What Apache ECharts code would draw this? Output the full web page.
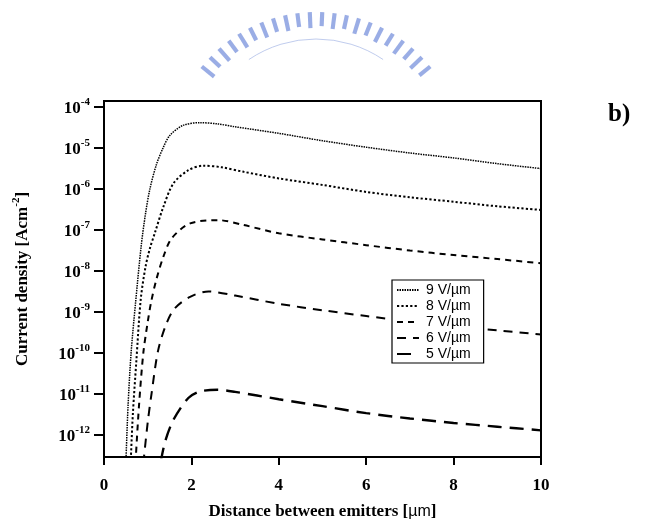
<!DOCTYPE html>
<html>
<head>
<meta charset="utf-8">
<script src="https://cdn.jsdelivr.net/npm/echarts@6/dist/echarts.min.js"></script>
<style>html,body{margin:0;padding:0;background:#fff}#c{width:646px;height:521px}</style>
</head>
<body>
<div id="c"></div>
<script>
// ---- data (distance in µm, current density in A/cm^2) ----
const seriesNames = ['9 V/µm', '8 V/µm', '7 V/µm', '6 V/µm', '5 V/µm'];

const x9 = [0.50, 0.55, 0.62, 0.72, 0.85, 0.95, 1.05, 1.2, 1.35, 1.5, 1.8, 2.2, 2.6, 3, 4, 5, 6, 7, 8, 9, 10];
const j9 = [2.0e-13, 5.0e-12, 1.0e-10, 1.58e-9, 3.98e-8, 2.51e-7, 1.0e-6, 3.98e-6, 1.0e-5, 2.0e-5, 3.55e-5, 4.17e-5, 3.89e-5, 3.31e-5, 2.29e-5, 1.51e-5, 1.05e-5, 7.59e-6, 5.75e-6, 4.17e-6, 3.16e-6];

const x8 = [0.61, 0.66, 0.74, 0.84, 0.95, 1.05, 1.17, 1.36, 1.59, 1.93, 2.27, 2.7, 3.2, 4, 5, 6, 7, 8, 9, 10];
const j8 = [2.0e-13, 3.16e-12, 6.31e-11, 2.0e-9, 1.26e-8, 3.55e-8, 8.91e-8, 3.72e-7, 1.38e-6, 2.88e-6, 3.72e-6, 3.39e-6, 2.63e-6, 1.82e-6, 1.26e-6, 8.51e-7, 6.31e-7, 4.9e-7, 3.8e-7, 3.09e-7];

const x7 = [0.72, 0.8, 0.9, 1.0, 1.08, 1.2, 1.36, 1.55, 1.97, 2.62, 3.2, 4, 5, 6, 7, 8, 9, 10];
const j7 = [2.0e-13, 5.01e-12, 1.0e-10, 5.62e-10, 1.78e-9, 6.31e-9, 2.24e-8, 6.31e-8, 1.45e-7, 1.74e-7, 1.32e-7, 8.32e-8, 5.89e-8, 4.27e-8, 3.16e-8, 2.45e-8, 1.95e-8, 1.55e-8];

const x6 = [0.9, 1.0, 1.09, 1.24, 1.43, 1.62, 1.97, 2.39, 3.0, 4, 5, 6, 7, 8, 9, 10];
const j6 = [2.0e-13, 2.0e-12, 1.05e-11, 1.17e-10, 5.25e-10, 1.23e-9, 2.34e-9, 3.16e-9, 2.51e-9, 1.58e-9, 1.1e-9, 7.94e-10, 5.89e-10, 4.47e-10, 3.55e-10, 2.82e-10];

const x5 = [1.3, 1.4, 1.59, 1.93, 2.2, 2.6, 3, 4, 5, 6, 7, 8, 9, 10];
const j5 = [2.24e-13, 6.92e-13, 2.34e-12, 7.94e-12, 1.15e-11, 1.26e-11, 1.12e-11, 7.41e-12, 5.01e-12, 3.39e-12, 2.51e-12, 1.95e-12, 1.58e-12, 1.29e-12];

const xTicks = [0, 2, 4, 6, 8, 10];
const yTicks = [1e-12, 1e-11, 1e-10, 1e-9, 1e-8, 1e-7, 1e-6, 1e-5, 1e-4];
const yMin = 2.88e-13, yMax = 1.41e-4;

// ---- styles ----
const styles = [
  { width: 1.5, type: [1.5, 1] },
  { width: 2, type: [2.2, 2.2] },
  { width: 2, type: [6, 5] },
  { width: 2, type: [9, 7] },
  { width: 2.4, type: [14, 8] }
];
const xs = [x9, x8, x7, x6, x5];
const js = [j9, j8, j7, j6, j5];

const serif = '"Liberation Serif", "Times New Roman", serif';
const sans = '"Liberation Sans", Arial, sans-serif';

const series = seriesNames.map((name, k) => ({
  name: name,
  type: 'line',
  symbol: 'none',
  smooth: 0.3,
  clip: true,
  lineStyle: { color: '#000', width: styles[k].width, type: styles[k].type },
  itemStyle: { color: '#000' },
  data: xs[k].map((x, i) => [x, js[k][i]])
}));

// watermark arch
const wm = [];
const cx = 316, cy = 159, r1 = 131, r2 = 147;
const nRect = 22;
for (let i = 0; i < nRect; i++) {
  const a = (219 + i * (102 / (nRect - 1))) * Math.PI / 180;
  const d = 0.9 * Math.PI / 180;
  const rr1 = r1 + (i % 2 ? 2 : 0);
  const p = (r, t) => [cx + r * Math.cos(t), cy + r * Math.sin(t)];
  wm.push({
    type: 'polygon',
    shape: { points: [p(rr1, a - d), p(r2, a - d * 0.9), p(r2, a + d * 0.9), p(rr1, a + d)] },
    style: { fill: 'rgba(120,145,220,0.75)' },
    silent: true
  });
}
wm.push({
  type: 'arc',
  shape: { cx: cx, cy: cy, r: 120, startAngle: 236 * Math.PI / 180, endAngle: 304 * Math.PI / 180 },
  style: { stroke: 'rgba(150,170,225,0.6)', lineWidth: 1, fill: null },
  silent: true
});

const chart = echarts.init(document.getElementById('c'), null, { renderer: 'canvas' });
chart.setOption({
  animation: false,
  backgroundColor: '#fff',
  grid: { left: 104, right: 105, top: 101, bottom: 64, show: true, borderColor: '#000', borderWidth: 2,
          backgroundColor: 'transparent', containLabel: false, outerBoundsMode: 'none' },
  legend: {
    orient: 'vertical',
    left: 392, top: 280,
    data: seriesNames,
    itemWidth: 22, itemHeight: 12, itemGap: 2,
    padding: [3, 13, 2, 4],
    backgroundColor: '#fff',
    borderColor: '#000', borderWidth: 1.2,
    itemStyle: { color: 'transparent', borderWidth: 0, opacity: 0 },
    textStyle: { fontFamily: sans, fontSize: 14, color: '#000', padding: [0, 0, 0, 2] }
  },
  xAxis: {
    type: 'value', min: 0, max: 10, interval: 2,
    name: '{a|Distance between emitters [}{m|µm}{a|]}',
    nameLocation: 'middle', nameGap: 46,
    nameTextStyle: {
      rich: {
        a: { fontFamily: serif, fontWeight: 'bold', fontSize: 17, color: '#000' },
        m: { fontFamily: sans, fontSize: 16, color: '#000' }
      }
    },
    axisLine: { lineStyle: { color: '#000', width: 2 } },
    axisTick: { inside: false, length: 8, lineStyle: { color: '#000', width: 2 } },
    axisLabel: { fontFamily: serif, fontWeight: 'bold', fontSize: 17, color: '#000', margin: 20 },
    splitLine: { show: false }
  },
  yAxis: {
    type: 'log', logBase: 10, min: yMin, max: yMax,
    name: '{a|Current density [Acm}{s|-2}{a|]}',
    nameLocation: 'middle', nameGap: 73, nameRotate: 90,
    nameTextStyle: {
      rich: {
        a: { fontFamily: serif, fontWeight: 'bold', fontSize: 17, color: '#000', lineHeight: 20, verticalAlign: 'bottom' },
        s: { fontFamily: serif, fontWeight: 'bold', fontSize: 11, color: '#000', lineHeight: 20, verticalAlign: 'top' }
      }
    },
    axisLine: { show: true, lineStyle: { color: '#000', width: 2 } },
    axisTick: { show: true, length: 10, lineStyle: { color: '#000', width: 2 }, customValues: yTicks },
    axisLabel: {
      customValues: yTicks,
      margin: 14,
      formatter: v => '{b|10}{s|' + Math.round(Math.log10(v)) + '}',
      rich: {
        b: { fontFamily: serif, fontWeight: 'bold', fontSize: 17, color: '#000', lineHeight: 20, verticalAlign: 'bottom' },
        s: { fontFamily: serif, fontWeight: 'bold', fontSize: 11, color: '#000', lineHeight: 20, verticalAlign: 'top' }
      }
    },
    splitLine: { show: false },
    minorTick: { show: false }
  },
  graphic: [
    { type: 'text', left: 608, top: 102, silent: true,
      style: { text: 'b)', font: 'bold 25px "Liberation Serif", serif', fill: '#000' } },
    { type: 'group', silent: true, children: wm }
  ],
  series: series
});
</script>
</body>
</html>
